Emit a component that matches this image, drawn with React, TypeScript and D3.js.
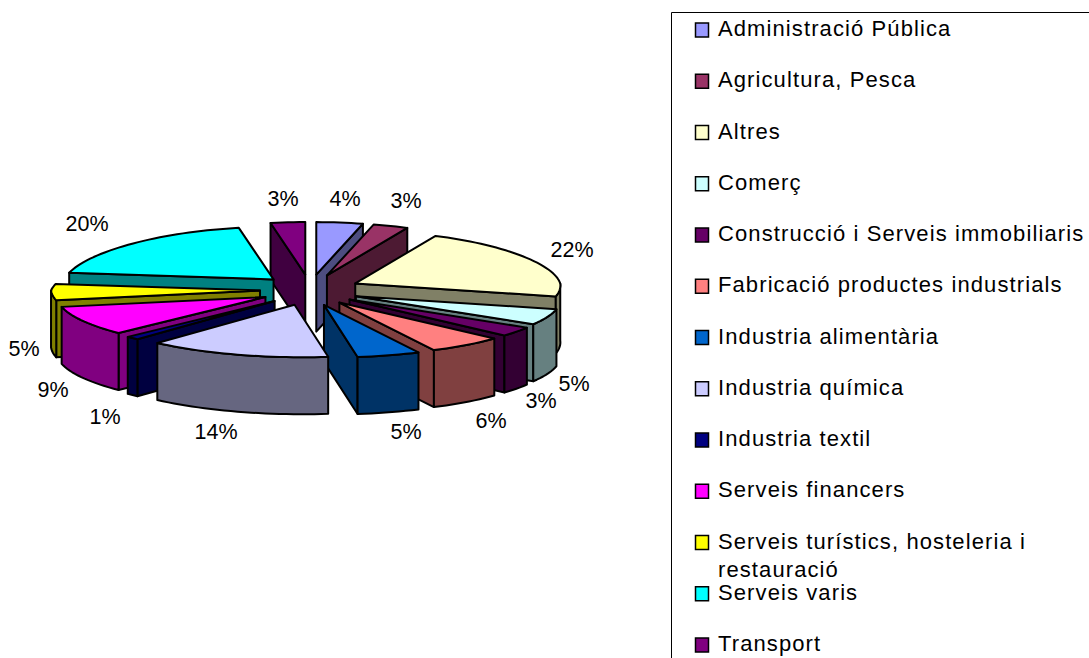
import React from "react";
import * as d3 from "d3";

const categories = [
  "Administració Pública", "Agricultura, Pesca", "Altres", "Comerç",
  "Construcció i Serveis immobiliaris", "Fabricació productes industrials",
  "Industria alimentària", "Industria química", "Industria textil",
  "Serveis financers", "Serveis turístics, hosteleria i restauració",
  "Serveis varis", "Transport",
];
const shares = [4, 3, 22, 5, 3, 6, 5, 14, 1, 9, 5, 20, 3];
const topColors = ["#9999ff", "#993366", "#ffffcc", "#ccffff", "#660066", "#ff8080", "#0066cc", "#ccccff", "#000080", "#ff00ff", "#ffff00", "#00ffff", "#800080"];
const wallColors = ["#4d4d80", "#4d1a33", "#808066", "#668080", "#330033", "#804040", "#003366", "#666680", "#000040", "#800080", "#808000", "#008080", "#400040"];
const labelCentres: [number, number][] = [[345, 199], [406, 201], [572, 250], [574, 384], [541, 401], [491, 421], [406, 432], [216, 432], [105, 417], [53, 390], [24, 349], [87, 224], [283, 199]];
const legendLines = [
  ["Administració Pública"], ["Agricultura, Pesca"], ["Altres"], ["Comerç"],
  ["Construcció i Serveis immobiliaris"], ["Fabricació productes industrials"],
  ["Industria alimentària"], ["Industria química"], ["Industria textil"],
  ["Serveis financers"], ["Serveis turístics, hosteleria i", "restauració"],
  ["Serveis varis"], ["Transport"],
];

const W = 1089, H = 658;
const CX = 310, CY = 290, DEPTH = 57, EXPLODE_X = 50, EXPLODE_Y = 15.5;
const FONT = "'Liberation Sans', Arial, sans-serif";

const proj = (t: number): [number, number] => {
  const c = Math.cos(t);
  const s = Math.sin(t);
  const rx = (s > 0 ? 205 : 209) - (s > 0 ? 18 : 24) * Math.max(0, c);
  return [rx * s + 8 * Math.max(0, -c), -52.5 * c];
};
const samples = (a: number, b: number) => {
  const n = Math.max(1, Math.ceil((b - a) / (Math.PI / 90)));
  return d3.range(n + 1).map((i) => a + ((b - a) * i) / n);
};
const line = d3.line<[number, number]>();
const closed = (pts: [number, number][]) => (line(pts) ?? "") + "Z";
const down = (pts: [number, number][]) => pts.map(([x, y]) => [x, y + DEPTH] as [number, number]);

const arcs = d3.pie<number>().sort(null).startAngle(0).endAngle(2 * Math.PI)(shares);

const slices = arcs.map((a) => {
  const mid = (a.startAngle + a.endAngle) / 2;
  const ox = CX + EXPLODE_X * Math.sin(mid);
  const oy = CY - EXPLODE_Y * Math.cos(mid);
  const at = (t: number): [number, number] => {
    const [x, y] = proj(t);
    return [ox + x, oy + y];
  };
  const apex: [number, number] = [ox, oy];
  const rim = samples(a.startAngle, a.endAngle).map(at);
  const walls: string[] = [];
  const radial = (t: number) => {
    const pts: [number, number][] = [apex, at(t)];
    walls.push(closed([...pts, ...down(pts).reverse()]));
  };
  if (Math.sin(a.startAngle) < -1e-6) radial(a.startAngle);
  if (Math.sin(a.endAngle) > 1e-6) radial(a.endAngle);
  const front0 = Math.max(a.startAngle, Math.PI / 2);
  const front1 = Math.min(a.endAngle, (3 * Math.PI) / 2);
  if (front1 > front0) {
    const pts = samples(front0, front1).map(at);
    walls.push(closed([...pts, ...down(pts).reverse()]));
  }
  const frontMost = a.startAngle <= Math.PI && a.endAngle >= Math.PI
    ? -1
    : Math.min(Math.cos(a.startAngle), Math.cos(a.endAngle));
  return { i: a.index, top: closed([apex, ...rim]), walls, frontMost };
});
const drawOrder = [...slices].sort((p, q) => q.frontMost - p.frontMost);

const legendY = d3.scaleLinear().domain([0, categories.length - 1]).range([36, 651]);

export default function App() {
  return (
    <svg width={W} height={H} viewBox={`0 0 ${W} ${H}`} fontFamily={FONT} style={{ position: "absolute", left: 0, top: 0, display: "block", background: "#fff" }}>
      {drawOrder.map((s) => (
        <g key={s.i} stroke="#000" strokeWidth={2} strokeLinejoin="round">
          {s.walls.map((d, k) => <path key={k} d={d} fill={wallColors[s.i]} />)}
          <path d={s.top} fill={topColors[s.i]} />
        </g>
      ))}
      {shares.map((v, i) => (
        <text key={i} x={labelCentres[i][0]} y={labelCentres[i][1]} textAnchor="middle" dominantBaseline="central" fontSize={21.5} fill="#000">
          {d3.format("d")(v)}%
        </text>
      ))}
      <path d={`M${W},12.5H671.5V${H}`} fill="none" stroke="#000" strokeWidth={1} />
      {categories.map((c, i) => {
        const y = legendY(i);
        return (
          <g key={c}>
            <rect x={695.5} y={y - 13} width={13} height={14} fill={topColors[i]} stroke="#000" strokeWidth={1.5} />
            <text x={718} y={y} fontSize={22} letterSpacing={1.1} fill="#000">
              {legendLines[i].map((l, k) => <tspan key={k} x={718} dy={k === 0 ? 0 : 28}>{l}</tspan>)}
            </text>
          </g>
        );
      })}
    </svg>
  );
}
